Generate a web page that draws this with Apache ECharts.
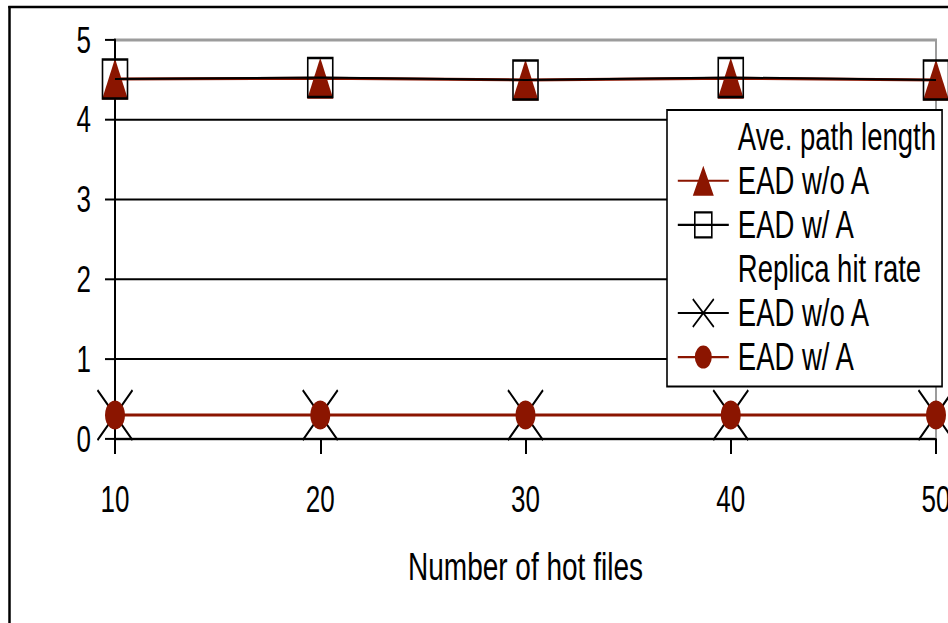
<!DOCTYPE html>
<html>
<head>
<meta charset="utf-8">
<title>Number of hot files</title>
<script src="https://cdn.jsdelivr.net/npm/echarts@6/dist/echarts.min.js"></script>
<style>
  html, body { margin: 0; padding: 0; background: #fff; overflow: hidden; width: 948px; height: 623px; }
  /* The figure is laid out in a shorter box and stretched vertically,
     which gives the tall, condensed lettering and markers of the figure. */
  #chart {
    width: 948px;
    height: 445px;
    transform: scaleY(1.4);
    transform-origin: 0 0;
  }
</style>
</head>
<body>
<div id="chart"></div>
<script>
// Number of hot files on the x axis
const hotFiles = [10, 20, 30, 40, 50];
// Average path length
const pathLenNoA = [4.51, 4.52, 4.50, 4.52, 4.50];
const pathLenWithA = [4.51, 4.53, 4.50, 4.53, 4.50];
// Replica hit rate
const hitRateNoA = [0.30, 0.30, 0.30, 0.30, 0.30];
const hitRateWithA = [0.30, 0.30, 0.30, 0.30, 0.30];
// Axis ranges
const xTicks = [10, 20, 30, 40, 50];
const yTicks = [0, 1, 2, 3, 4, 5];

const FONT = '"Liberation Sans", Arial, Helvetica, sans-serif';
const RED = '#8b1500';
const BLACK = '#000000';
const GRAY = '#9c9c9c';
const SY = 1.4; // vertical stretch of the container

function pairs(xs, ys) {
  return xs.map((x, i) => [x, ys[i]]);
}

const noHover = { disabled: true };

const series = [
  {
    name: 'Ave. path length',
    type: 'line',
    data: [],
    silent: true
  },
  {
    name: 'EAD w/o A',
    id: 'pathNoA',
    type: 'line',
    data: pairs(hotFiles, pathLenNoA),
    symbol: 'triangle',
    symbolSize: [26, 41 / SY],
    lineStyle: { color: RED, width: 3 / SY },
    itemStyle: { color: RED },
    clip: false,
    emphasis: noHover,
    z: 2
  },
  {
    name: 'EAD w/ A',
    id: 'pathWithA',
    type: 'line',
    data: pairs(hotFiles, pathLenWithA),
    symbol: 'rect',
    symbolSize: [25, 39 / SY],
    lineStyle: { color: BLACK, width: 2 / SY },
    itemStyle: { color: 'rgba(0,0,0,0)', borderColor: BLACK, borderWidth: 1.7 },
    clip: false,
    emphasis: noHover,
    z: 3
  },
  {
    name: 'Replica hit rate',
    type: 'line',
    data: [],
    silent: true
  },
  {
    name: 'EAD w/o A ',
    id: 'hitNoA',
    type: 'line',
    data: pairs(hotFiles, hitRateNoA),
    symbol: 'path://M0,0L10,10M10,0L0,10',
    symbolSize: [35, 50 / SY],
    lineStyle: { color: BLACK, width: 2 / SY },
    itemStyle: { color: 'rgba(0,0,0,0)', borderColor: BLACK, borderWidth: 1.8 },
    clip: false,
    emphasis: noHover,
    z: 2
  },
  {
    name: 'EAD w/ A ',
    id: 'hitWithA',
    type: 'line',
    data: pairs(hotFiles, hitRateWithA),
    symbol: 'circle',
    symbolSize: [20, 29 / SY],
    lineStyle: { color: RED, width: 3 / SY },
    itemStyle: { color: RED },
    clip: false,
    emphasis: noHover,
    z: 3
  }
];

// Legend keys: a short line with the marker in the middle
const hiddenKey = { icon: 'rect', itemStyle: { color: 'rgba(0,0,0,0)', borderWidth: 0 } };
const legendData = [
  Object.assign({ name: 'Ave. path length' }, hiddenKey),
  {
    name: 'EAD w/o A',
    icon: 'path://M0,10L51,10L51,11.5L0,11.5Z M25.5,0L36,21.4L15,21.4Z',
    itemStyle: { color: RED, borderWidth: 0 }
  },
  {
    name: 'EAD w/ A',
    icon: 'path://M0,10.75L51,10.75 M17,1.8L34,1.8L34,19.7L17,19.7Z',
    itemStyle: { color: 'rgba(0,0,0,0)', borderColor: BLACK, borderWidth: 1.6 }
  },
  Object.assign({ name: 'Replica hit rate' }, hiddenKey),
  {
    name: 'EAD w/o A ',
    icon: 'path://M0,11L51,11 M15,1L36,21 M36,1L15,21',
    itemStyle: { color: 'rgba(0,0,0,0)', borderColor: BLACK, borderWidth: 1.6 }
  },
  {
    name: 'EAD w/ A ',
    icon: 'path://M0,10.25L18,10.25L18,11.75L0,11.75Z M33,10.25L51,10.25L51,11.75L33,11.75Z M17,11A8.5,8.2 0 1,1 34,11A8.5,8.2 0 1,1 17,11Z',
    itemStyle: { color: RED, borderWidth: 0 }
  }
];

const chart = echarts.init(document.getElementById('chart'), null, { renderer: 'svg' });

chart.setOption({
  animation: false,
  backgroundColor: '#ffffff',
  textStyle: { fontFamily: FONT, color: BLACK },
  grid: {
    left: 115,
    right: 12,
    top: 40 / SY,
    bottom: 184 / SY,
    containLabel: false,
    outerBoundsMode: 'none',
    show: true,
    borderColor: GRAY,
    borderWidth: 2,
    backgroundColor: 'rgba(0,0,0,0)'
  },
  xAxis: {
    type: 'value',
    min: xTicks[0],
    max: xTicks[xTicks.length - 1],
    interval: xTicks[1] - xTicks[0],
    name: 'Number of hot files',
    nameLocation: 'middle',
    nameGap: 77,
    nameTextStyle: { fontFamily: FONT, fontSize: 28, color: BLACK },
    axisLine: { show: true, onZero: false, lineStyle: { color: BLACK, width: 2 / SY } },
    axisTick: { show: true, inside: false, length: 15 / SY, lineStyle: { color: BLACK, width: 2 } },
    axisLabel: { margin: 30, fontFamily: FONT, fontSize: 26, color: BLACK },
    splitLine: { show: false }
  },
  yAxis: {
    type: 'value',
    min: yTicks[0],
    max: yTicks[yTicks.length - 1],
    interval: yTicks[1] - yTicks[0],
    axisLine: { show: true, lineStyle: { color: BLACK, width: 2 } },
    axisTick: { show: true, inside: false, length: 10, lineStyle: { color: BLACK, width: 2 / SY } },
    axisLabel: { margin: 24, fontFamily: FONT, fontSize: 26, color: BLACK },
    splitLine: {
      show: true,
      lineStyle: { color: [BLACK, BLACK, BLACK, BLACK, BLACK, GRAY], width: 2 / SY }
    }
  },
  legend: {
    orient: 'vertical',
    left: 667,
    top: 110 / SY,
    padding: [5, 6, 7, 10],
    itemWidth: 51,
    itemHeight: 22,
    itemGap: 3.5,
    selectedMode: false,
    backgroundColor: '#ffffff',
    borderColor: BLACK,
    borderWidth: 1.6,
    borderRadius: 0,
    textStyle: { fontFamily: FONT, fontSize: 27.5, color: BLACK, padding: [0, 0, 0, 4] },
    data: legendData,
    z: 10
  },
  graphic: [
    {
      type: 'line',
      shape: { x1: 8.3, y1: 7 / SY, x2: 948, y2: 7 / SY },
      style: { stroke: BLACK, lineWidth: 2.5 / SY },
      silent: true,
      z: 100
    },
    {
      type: 'line',
      shape: { x1: 9.5, y1: 6 / SY, x2: 9.5, y2: 445 },
      style: { stroke: BLACK, lineWidth: 2.5 },
      silent: true,
      z: 100
    }
  ],
  series: series
});
</script>
</body>
</html>
